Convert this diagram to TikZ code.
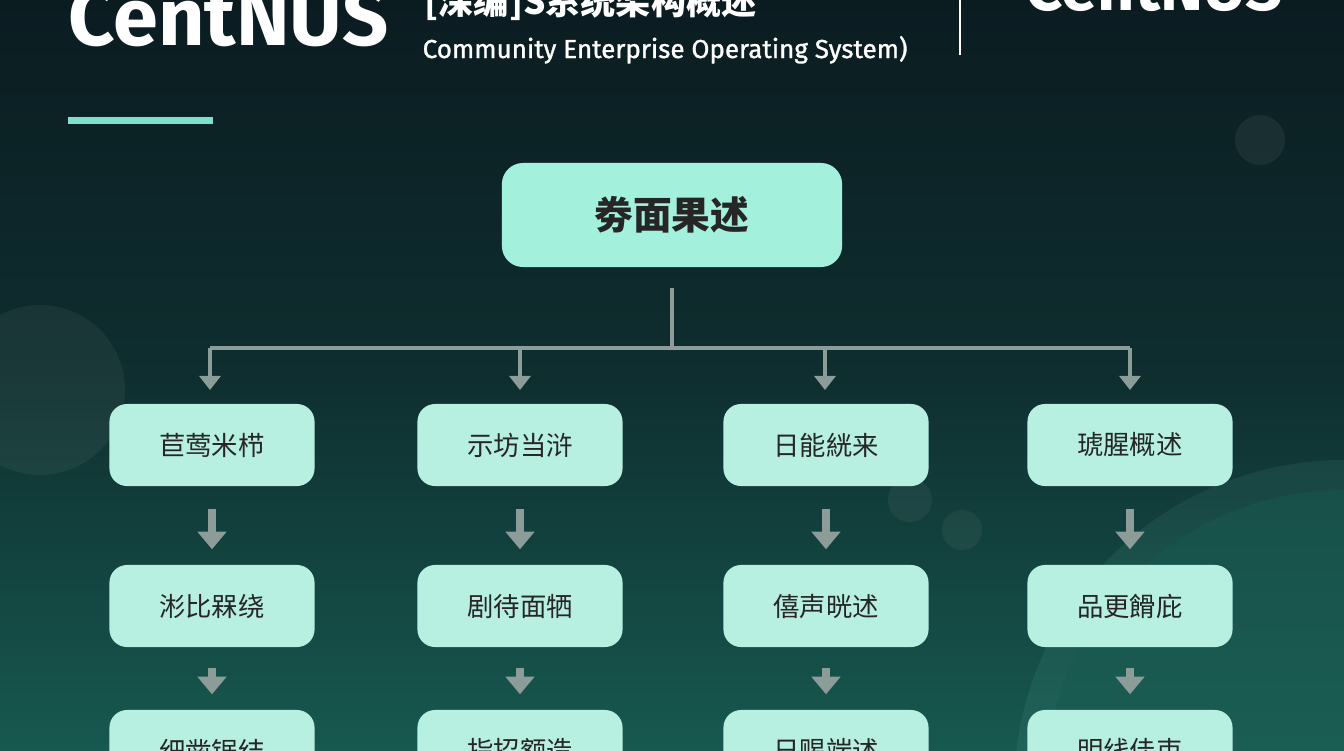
\documentclass[tikz,border=0pt]{standalone}
\usepackage{fontspec}
\setmainfont{Fira Sans}
\newfontfamily\cjk{Noto Sans CJK SC}
\usetikzlibrary{arrows.meta}
\usetikzlibrary{positioning}
\definecolor{bgtop}{HTML}{0B1C21}
\definecolor{bgbot}{HTML}{17594F}
\definecolor{mint}{HTML}{B7EFE1}
\definecolor{mintroot}{HTML}{A3F0DD}
\definecolor{accent}{HTML}{7DE0CC}
\definecolor{link}{HTML}{8C9C99}
\tikzset{
  item/.style={draw=none,fill=mint,rounded corners=5pt,minimum width=2.05cm,minimum height=0.82cm,font=\cjk\fontsize{7.5pt}{8pt}\selectfont,text=black!85},
  root/.style={draw=none,fill=mintroot,rounded corners=6pt,minimum width=3.4cm,minimum height=1.04cm,font=\cjk\bfseries\fontsize{11pt}{12pt}\selectfont,text=black!85},
  link/.style={draw=link,line width=0.9pt},
  linkarr/.style={link,-{Triangle[length=4pt,width=6pt]}},
  bigarr/.style={draw=link,line width=2pt,-{Triangle[length=5pt,width=8pt]}}
}
\begin{document}
\begin{tikzpicture}[x=0.01cm,y=-0.01cm]
\useasboundingbox (0,0) rectangle (1344,750);
\clip (0,0) rectangle (1344,750);
\shade[top color=bgtop,bottom color=bgbot,middle color=bgtop!70!bgbot] (0,0) rectangle (1344,750);
% decorative circles
\fill[white,opacity=0.05] (40,390) circle (85);
\fill[white,opacity=0.06] (1260,140) circle (25);
\fill[white,opacity=0.05] (910,500) circle (22);
\fill[white,opacity=0.05] (962,530) circle (20);
\fill[accent,opacity=0.08] (1344,790) circle (330);
\fill[bgbot,opacity=0.5] (1344,790) circle (300);

% header
\node (logo) at (68,45) [anchor=base west,text=white,font=\bfseries\fontsize{23pt}{23pt}\selectfont,inner sep=0] {CentNUS};
\node (title) at (424,14) [anchor=base west,text=white,font=\cjk\bfseries\fontsize{10pt}{10pt}\selectfont,inner sep=0] {[深编]S系统架构概述};
\node (sub) at (422,58) [anchor=base west,text=white,font=\fontsize{7.4pt}{8pt}\selectfont,inner sep=0] {\addfontfeatures{FakeBold=1.2}Community Enterprise Operating System)};
\draw[white!45,line width=0.6pt] (960,0) -- (960,55);
\node (logo2) at (1025,10) [anchor=base west,text=white,font=\bfseries\fontsize{18.5pt}{19pt}\selectfont,inner sep=0] {CentNUS};
\fill[accent] (68,117) rectangle (213,124);

% tree
\node[root] (top) at (672,215) {劵面果述};

\node[item] (a1) at (212,445) {苣莺米栉};
\node[item] (b1) at (520,445) {示坊当浒};
\node[item] (c1) at (826,445) {日能絖来};
\node[item] (d1) at (1130,445) {琥腥概述};

\node[item] (a2) at (212,606) {涁比槑绕};
\node[item] (b2) at (520,606) {剧待面牺};
\node[item] (c2) at (826,606) {僖声晄述};
\node[item] (d2) at (1130,606) {品更餶庇};

\node[item] (a3) at (212,751) {细凿锯结};
\node[item] (b3) at (520,751) {指招额造};
\node[item] (c3) at (826,751) {日赐端述};
\node[item] (d3) at (1130,751) {明线佳束};

\coordinate (hub) at (672,348);
\coordinate (ja) at (210,348);
\coordinate (jb) at (520,348);
\coordinate (jc) at (825,348);
\coordinate (jd) at (1130,348);

\draw[link] ([yshift=-0.2cm]top.south) -- (hub);
\draw[link] (ja) -- (jd);
\draw[linkarr] (ja) -- ++(0,42);
\draw[linkarr] (jb) -- ++(0,42);
\draw[linkarr] (jc) -- ++(0,42);
\draw[linkarr] (jd) -- ++(0,42);

\draw[bigarr] ([yshift=-0.22cm]a1.south) -- ([yshift=0.15cm]a2.north);
\draw[bigarr] ([yshift=-0.22cm]b1.south) -- ([yshift=0.15cm]b2.north);
\draw[bigarr] ([yshift=-0.22cm]c1.south) -- ([yshift=0.15cm]c2.north);
\draw[bigarr] ([yshift=-0.22cm]d1.south) -- ([yshift=0.15cm]d2.north);

\draw[bigarr] ([yshift=-0.2cm]a2.south) -- ([yshift=0.15cm]a3.north);
\draw[bigarr] ([yshift=-0.2cm]b2.south) -- ([yshift=0.15cm]b3.north);
\draw[bigarr] ([yshift=-0.2cm]c2.south) -- ([yshift=0.15cm]c3.north);
\draw[bigarr] ([yshift=-0.2cm]d2.south) -- ([yshift=0.15cm]d3.north);
\end{tikzpicture}
\end{document}
